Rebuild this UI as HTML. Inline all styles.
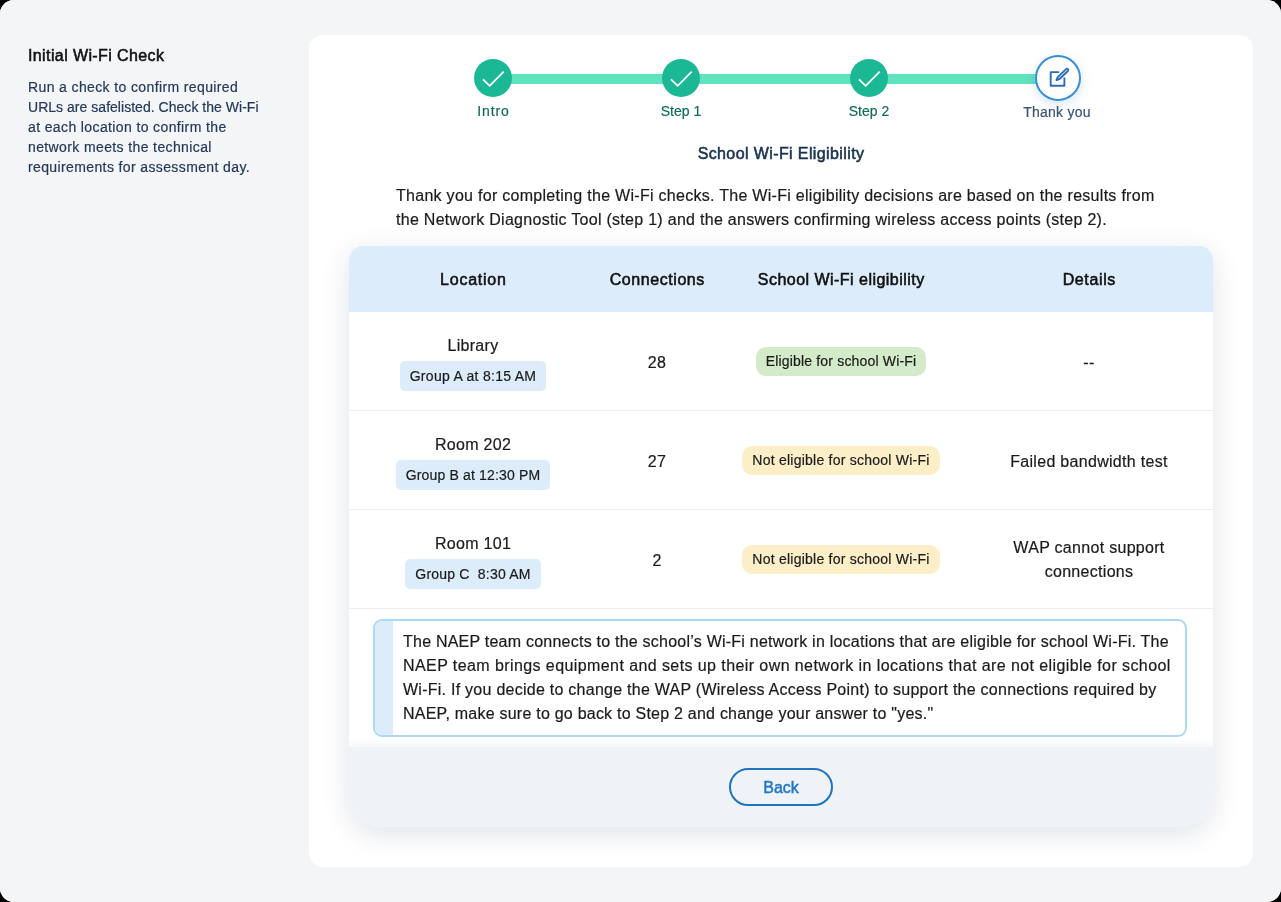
<!DOCTYPE html>
<html><head><meta charset="utf-8">
<style>
*{box-sizing:border-box;margin:0;padding:0}
html,body{width:1281px;height:902px;overflow:hidden;background:#000}
body{font-family:"Liberation Sans",sans-serif;position:relative;will-change:transform}
.intro,.c,.note .txt,.side-p,.lbl{-webkit-text-stroke:0.2px currentColor}
.under{position:absolute;left:0;top:0;width:1281px;height:902px;background:#fff;border-radius:14px}
.page{position:absolute;left:0;top:0;width:1281px;height:902px;background:#f4f5f7;border-radius:14px}
.side-t{position:absolute;left:28px;top:46.5px;font-size:16px;font-weight:normal;-webkit-text-stroke:0.55px #111;color:#111;white-space:nowrap;letter-spacing:0.39px}
.side-p{position:absolute;left:28px;top:76.7px;font-size:14px;line-height:20px;color:#22395a;white-space:nowrap;letter-spacing:0.38px}
.panel{position:absolute;left:309px;top:35px;width:944px;height:832px;background:#fff;border-radius:14px}
.track{position:absolute;top:74px;left:493px;width:565px;height:10px;background:#5fe3bf}
.dot{position:absolute;width:38px;height:38px;border-radius:50%;background:#1bb896;top:59px}
.dot svg{position:absolute;left:0;top:0}
.cur{position:absolute;left:1035px;top:55px;width:46px;height:46px;border-radius:50%;background:#fff;border:2px solid #3a8fd8;box-shadow:0 3px 12px rgba(60,120,200,.2)}
.lbl{position:absolute;top:103px;font-size:14px;color:#0f6b5c;white-space:nowrap;text-align:center;width:100px}
.h2{position:absolute;left:581px;width:400px;text-align:center;top:144.5px;font-size:16px;font-weight:normal;-webkit-text-stroke:0.55px #18324f;color:#18324f;letter-spacing:0.39px}
.intro{position:absolute;left:396px;top:184px;font-size:16px;line-height:24px;color:#1b1b1b;white-space:nowrap;letter-spacing:0.285px}
.card{position:absolute;left:349px;top:246px;width:864px;height:581px;border-radius:14px 14px 32px 32px;background:#fff;box-shadow:0 7px 28px rgba(20,40,80,.13);overflow:hidden}
.thead{position:absolute;left:0;top:0;width:864px;height:66px;background:#dcecfa}
.th{position:absolute;top:24.8px;font-size:16px;font-weight:normal;-webkit-text-stroke:0.55px #111;color:#111;text-align:center;white-space:nowrap;letter-spacing:0.3px}
.row{position:absolute;left:0;width:864px;border-bottom:1px solid #eceef6}
.c{position:absolute;text-align:center;font-size:16px;color:#1b1b1b;white-space:nowrap;letter-spacing:0.3px}
.tag{display:inline-block;background:#dcecfa;border-radius:5px;font-size:14px;height:29.5px;line-height:30px;padding:0 10px;letter-spacing:0.29px}
.pill{display:inline-block;border-radius:10px;font-size:14px;height:29.7px;line-height:29.7px;padding:0 10px;letter-spacing:0.3px}
.pg{background:#d3ebc8}
.py{background:#fcefc8}
.note{position:absolute;left:24px;top:373px;width:814px;height:118px;border:2px solid #acd9f8;border-radius:9px;overflow:hidden}
.note .stripe{position:absolute;left:0;top:0;width:18px;height:100%;background:#dcecfa}
.note .txt{position:absolute;left:28px;top:9px;font-size:16px;line-height:24px;color:#1b1b1b;white-space:nowrap;letter-spacing:0.23px}
.foot{position:absolute;left:0;top:501px;width:864px;height:80px;background:#eff2f7;box-shadow:0 -3px 8px rgba(30,50,90,.05)}
.btn{position:absolute;left:380px;top:21.2px;width:104px;height:38px;border:2px solid #1f74bd;border-radius:19px;text-align:center;line-height:34px;font-size:16px;font-weight:normal;color:#1f78c1;-webkit-text-stroke:0.45px #1f78c1;letter-spacing:0px;padding-top:0.7px}
</style></head><body>
<div class="under"></div>
<div class="page">
  <div class="side-t">Initial Wi-Fi Check</div>
  <div class="side-p">Run a check to confirm required<br><span style="letter-spacing:0.03px">URLs are safelisted. Check the Wi-Fi</span><br>at each location to confirm the<br>network meets the technical<br>requirements for assessment day.</div>
  <div class="panel"></div>
</div>
<div class="track"></div>
<div class="dot" style="left:474px"><svg width="38" height="38"><path d="M9 20.3 L15.7 26.8 L29.7 12.7" fill="none" stroke="#fff" stroke-width="1.8"/></svg></div>
<div class="dot" style="left:662px"><svg width="38" height="38"><path d="M9 20.3 L15.7 26.8 L29.7 12.7" fill="none" stroke="#fff" stroke-width="1.8"/></svg></div>
<div class="dot" style="left:850px"><svg width="38" height="38"><path d="M9 20.3 L15.7 26.8 L29.7 12.7" fill="none" stroke="#fff" stroke-width="1.8"/></svg></div>
<div class="cur"><svg width="42" height="42" style="position:absolute;left:0;top:0"><g fill="none" stroke="#2a6fb5" stroke-width="1.9" stroke-linejoin="round"><path d="M22.2 15.1 H13.7 V28.8 H27.4 V20.6"/><path d="M19.4 23.1 L22.47 21.99 L30.89 14.05 A1.3 1.3 0 0 0 29.11 12.15 L20.69 20.09 Z"/></g></svg></div>
<div class="lbl" style="left:443px;letter-spacing:0.9px;text-indent:0.9px">Intro</div>
<div class="lbl" style="left:631px">Step 1</div>
<div class="lbl" style="left:819px">Step 2</div>
<div class="lbl" style="left:1007px;top:104px;color:#3b5473;letter-spacing:0.25px">Thank you</div>
<div class="h2">School Wi-Fi Eligibility</div>
<div class="intro">Thank you for completing the Wi-Fi checks. The Wi-Fi eligibility decisions are based on the results from<br>the Network Diagnostic Tool (step 1) and the answers confirming wireless access points (step 2).</div>
<div class="card">
  <div class="thead">
    <div class="th" style="left:0;width:248px;letter-spacing:0.76px;text-indent:0.76px">Location</div>
    <div class="th" style="left:248px;width:120px;letter-spacing:0.57px;text-indent:0.57px">Connections</div>
    <div class="th" style="left:368px;width:248px;letter-spacing:0.47px;text-indent:0.47px">School Wi-Fi eligibility</div>
    <div class="th" style="left:616px;width:248px;letter-spacing:0.63px;text-indent:0.63px">Details</div>
  </div>
  <div class="row" style="top:66px;height:99px">
    <div class="c" style="left:0;width:248px;top:23px;line-height:22px">Library<br><span class="tag" style="margin-top:4px">Group A at 8:15 AM</span></div>
    <div class="c" style="left:248px;width:120px;top:41.6px">28</div>
    <div class="c" style="left:368px;width:248px;top:34.6px"><span class="pill pg" style="letter-spacing:0.175px">Eligible for school Wi-Fi</span></div>
    <div class="c" style="left:616px;width:248px;top:41.6px">--</div>
  </div>
  <div class="row" style="top:165px;height:99px">
    <div class="c" style="left:0;width:248px;top:23px;line-height:22px">Room 202<br><span class="tag" style="margin-top:4px;letter-spacing:0.16px">Group B at 12:30 PM</span></div>
    <div class="c" style="left:248px;width:120px;top:41.6px">27</div>
    <div class="c" style="left:368px;width:248px;top:34.6px"><span class="pill py" style="letter-spacing:0.24px">Not eligible for school Wi-Fi</span></div>
    <div class="c" style="left:616px;width:248px;top:41.6px">Failed bandwidth test</div>
  </div>
  <div class="row" style="top:264px;height:99px">
    <div class="c" style="left:0;width:248px;top:23px;line-height:22px">Room 101<br><span class="tag" style="margin-top:4px;letter-spacing:0.21px">Group C &nbsp;8:30 AM</span></div>
    <div class="c" style="left:248px;width:120px;top:41.6px">2</div>
    <div class="c" style="left:368px;width:248px;top:34.6px"><span class="pill py" style="letter-spacing:0.24px">Not eligible for school Wi-Fi</span></div>
    <div class="c" style="left:616px;width:248px;top:26px;line-height:24px">WAP cannot support<br>connections</div>
  </div>
  <div class="note"><div class="stripe"></div><div class="txt">The NAEP team connects to the school’s Wi-Fi network in locations that are eligible for school Wi-Fi. The<br><span style="letter-spacing:0.415px">NAEP team brings equipment and sets up their own network in locations that are not eligible for school</span><br><span style="letter-spacing:0.257px">Wi-Fi. If you decide to change the WAP (Wireless Access Point) to support the connections required by</span><br>NAEP, make sure to go back to Step 2 and change your answer to "yes."</div></div>
  <div class="foot"><div class="btn">Back</div></div>
</div>
</body></html>
